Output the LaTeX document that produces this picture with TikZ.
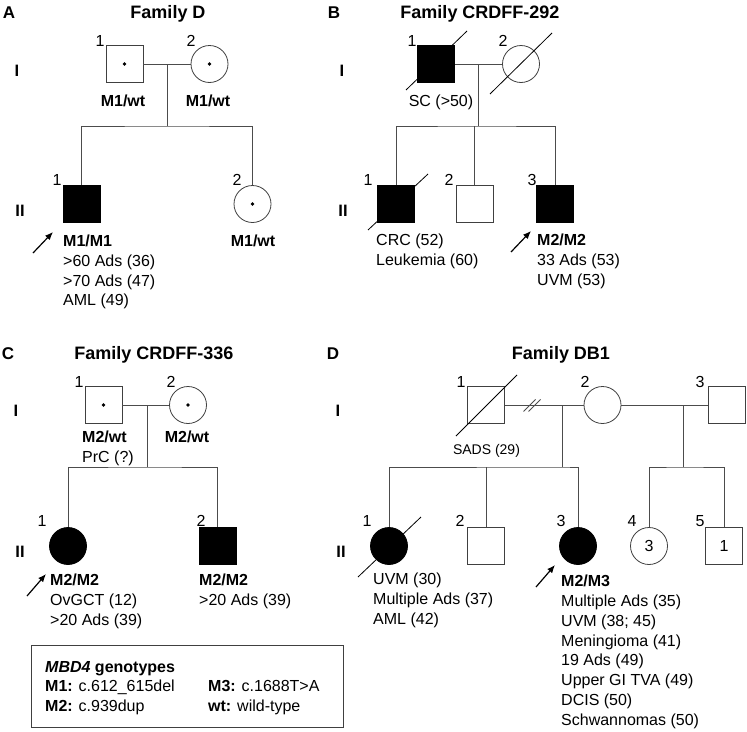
\documentclass[tikz,border=0pt]{standalone}
\usepackage{fontspec}
\setmainfont{Liberation Sans}
\usetikzlibrary{arrows.meta,calc}
\tikzset{
  ln/.style={draw=black!70, line width=0.8pt},
  sq/.style={rectangle, draw=black!75, line width=0.8pt, minimum size=37pt, inner sep=0pt, font=\fontsize{16}{19}\selectfont},
  ci/.style={circle, draw=black!75, line width=0.8pt, minimum size=37pt, inner sep=0pt, font=\fontsize{16}{19}\selectfont},
  aff/.style={fill=black, draw=black},
  num/.style={font=\fontsize{16}{19}\selectfont, anchor=base, inner sep=0pt},
  txt/.style={font=\fontsize{16}{19}\selectfont, anchor=base, inner sep=0pt},
  smalltxt/.style={font=\fontsize{14}{17}\selectfont, anchor=base, inner sep=0pt},
  gen/.style={font=\bfseries\fontsize{16.5}{19}\selectfont, anchor=base, inner sep=0pt},
  ttl/.style={font=\bfseries\fontsize{18}{21}\selectfont, anchor=base, inner sep=0pt},
  plab/.style={font=\bfseries\fontsize{17}{20}\selectfont, anchor=base, inner sep=0pt},
  geno/.style={font=\bfseries\fontsize{16}{19}\selectfont, anchor=base, inner sep=0pt},
  info/.style={font=\fontsize{16}{19.8}\selectfont, anchor=north west, align=left, inner sep=0pt},
  dec/.style={draw=black, line width=0.8pt},
  prob/.style={draw=black, line width=1.2pt, -{Latex[length=8pt,width=6.5pt]}},
}
\begin{document}
\begin{tikzpicture}[x=1pt,y=-1pt]
\useasboundingbox (0,0) rectangle (747,731);

% ================= Panel A =================
\node[plab] (lA) at (9,18.5) {A};
\node[ttl] (tA) at (168,18.5) {Family D};
\node[gen] (gAI) at (17,76) {I};
\node[gen] (gAII) at (20,216) {II};
\node[sq] (a11) at (124.5,64) {};
\node[ci] (a12) at (209.5,64) {};
\fill (a11.center) circle (1.9);
\fill (a12.center) circle (1.9);
\node[num] (na11) at (100,46) {1};
\node[num] (na12) at (191,46) {2};
\coordinate (amj) at (167,64);
\coordinate (asb) at (167,126);
\draw[ln] (a11.east) -- (a12.west);
\draw[ln] (amj) -- (asb);
\node[sq,aff] (a21) at (81.5,204) {};
\node[ci] (a22) at (252.5,204) {};
\fill (a22.center) circle (1.9);
\draw[ln] (a21.north) |- (asb) -| (a22.north);
\node[num] (na21) at (57,185) {1};
\node[num] (na22) at (237,185) {2};
\node[geno] (ga11) at (123,106) {M1/wt};
\node[geno] (ga12) at (208,106) {M1/wt};
\node[info] (ia21) at (63,234.8) {\textbf{M1/M1}\\>60 Ads (36)\\>70 Ads (47)\\AML (49)};
\node[geno] (ga22) at (253,246) {M1/wt};
\coordinate (pa0) at (33,253);
\coordinate (pa1) at (53,232);
\draw[prob] (pa0) -- (pa1);

% ================= Panel B =================
\node[plab] (lB) at (334,18.5) {B};
\node[ttl] (tB) at (480,18.5) {Family CRDFF-292};
\node[gen] (gBI) at (342,76) {I};
\node[gen] (gBII) at (343,216) {II};
\node[sq,aff] (b11) at (436,64) {};
\node[ci] (b12) at (521,64) {};
\draw[dec] ([shift={(-30,26)}]b11.center) -- ([shift={(31,-33)}]b11.center);
\draw[dec] ([shift={(-31,30)}]b12.center) -- ([shift={(31,-31)}]b12.center);
\node[num] (nb11) at (412,46) {1};
\node[num] (nb12) at (503,46) {2};
\coordinate (bmj) at (478,64);
\coordinate (bsb) at (478,126);
\draw[ln] (b11.east) -- (b12.west);
\draw[ln] (bmj) -- (bsb);
\node[txt] (sb11) at (441,106) {SC (>50)};
\node[sq,aff] (b21) at (396,204) {};
\node[sq] (b22) at (474.5,204) {};
\node[sq,aff] (b23) at (555,204) {};
\draw[dec] ([shift={(-28,26)}]b21.center) -- ([shift={(32,-30)}]b21.center);
\draw[ln] (b21.north) |- (bsb) -| (b23.north);
\draw[ln] (b22.north) -- (b22.north |- bsb);
\node[num] (nb21) at (368,185) {1};
\node[num] (nb22) at (449,185) {2};
\node[num] (nb23) at (532,185) {3};
\node[info] (ib21) at (376,233.8) {CRC (52)\\Leukemia (60)};
\node[info] (ib23) at (537,233.8) {\textbf{M2/M2}\\33 Ads (53)\\UVM (53)};
\coordinate (pb0) at (511,252);
\coordinate (pb1) at (531,231);
\draw[prob] (pb0) -- (pb1);

% ================= Panel C =================
\node[plab] (lC) at (8,359) {C};
\node[ttl] (tC) at (154,359) {Family CRDFF-336};
\node[gen] (gCI) at (16,416) {I};
\node[gen] (gCII) at (20,557) {II};
\node[sq] (c11) at (103.5,405) {};
\node[ci] (c12) at (188,405) {};
\fill (c11.center) circle (1.9);
\fill (c12.center) circle (1.9);
\node[num] (nc11) at (79,387) {1};
\node[num] (nc12) at (171,387) {2};
\coordinate (cmj) at (147,405);
\coordinate (csb) at (147,467);
\draw[ln] (c11.east) -- (c12.west);
\draw[ln] (cmj) -- (csb);
\node[info] (ic11) at (82,430.8) {\textbf{M2/wt}\\PrC (?)};
\node[geno] (gc12) at (187,442) {M2/wt};
\node[ci,aff] (c21) at (68,546) {};
\node[sq,aff] (c22) at (217.5,546) {};
\draw[ln] (c21.north) |- (csb) -| (c22.north);
\node[num] (nc21) at (42,526) {1};
\node[num] (nc22) at (201,526) {2};
\node[info] (ic21) at (50,573.8) {\textbf{M2/M2}\\OvGCT (12)\\>20 Ads (39)};
\node[info] (ic22) at (199,573.8) {\textbf{M2/M2}\\>20 Ads (39)};
\coordinate (pc0) at (27,596);
\coordinate (pc1) at (46,574);
\draw[prob] (pc0) -- (pc1);

% legend
\node[draw=black!75, line width=0.8pt, minimum width=312pt, minimum height=82pt, anchor=north west, inner sep=0pt] (leg) at (31,645) {};
\node[info] (leg1) at (45,660.8) {\textbf{\textit{MBD4} genotypes}\\\textbf{M1:} c.612\_615del\\\textbf{M2:} c.939dup};
\node[info] (leg2) at (208,680.6) {\textbf{M3:} c.1688T>A\\\textbf{wt:} wild-type};

% ================= Panel D =================
\node[plab] (lD) at (333,359) {D};
\node[ttl] (tD) at (561,359) {Family DB1};
\node[gen] (gDI) at (338,416) {I};
\node[gen] (gDII) at (341,557) {II};
\node[sq] (d11) at (486,405) {};
\node[ci] (d12) at (602.5,405) {};
\node[sq] (d13) at (726.5,405) {};
\draw[dec] ([shift={(-30,31)}]d11.center) -- ([shift={(31,-30)}]d11.center);
\node[num] (nd11) at (461,387) {1};
\node[num] (nd12) at (585,387) {2};
\node[num] (nd13) at (700,387) {3};
\draw[ln] (d11.east) -- (d12.west);
\draw[ln] (d12.east) -- (d13.west);
\coordinate (dbrk) at (532,405.5);
\draw[ln] ([shift={(-8.5,6)}]dbrk) -- ([shift={(3.5,-6)}]dbrk);
\draw[ln] ([shift={(-3.5,6)}]dbrk) -- ([shift={(8.5,-6)}]dbrk);
\coordinate (dmj1) at (562,405);
\coordinate (dsb1) at (562,467);
\coordinate (dmj2) at (683,405);
\coordinate (dsb2) at (683,467);
\draw[ln] (dmj1) -- (dsb1);
\draw[ln] (dmj2) -- (dsb2);
\node[smalltxt] (sd11) at (486.5,454) {SADS (29)};
\node[ci,aff] (d21) at (389,546) {};
\node[sq] (d22) at (486,546) {};
\node[ci,aff] (d23) at (578,546) {};
\node[ci] (d24) at (649,546) {3};
\node[sq] (d25) at (724,546) {1};
\draw[dec] ([shift={(-31,31)}]d21.center) -- ([shift={(32,-29)}]d21.center);
\draw[ln] (d21.north) |- (dsb1) -| (d23.north);
\draw[ln] (d22.north) -- (d22.north |- dsb1);
\draw[ln] (d24.north) |- (dsb2) -| (d25.north);
\node[num] (nd21) at (367,526) {1};
\node[num] (nd22) at (460,526) {2};
\node[num] (nd23) at (561,526) {3};
\node[num] (nd24) at (632,526) {4};
\node[num] (nd25) at (700,526) {5};
\node[info] (id21) at (373,572.8) {UVM (30)\\Multiple Ads (37)\\AML (42)};
\node[info] (id23) at (561,574.8) {\textbf{M2/M3}\\Multiple Ads (35)\\UVM (38; 45)\\Meningioma (41)\\19 Ads (49)\\Upper GI TVA (49)\\DCIS (50)\\Schwannomas (50)};
\coordinate (pd0) at (536,587);
\coordinate (pd1) at (555,565);
\draw[prob] (pd0) -- (pd1);
\end{tikzpicture}
\end{document}
